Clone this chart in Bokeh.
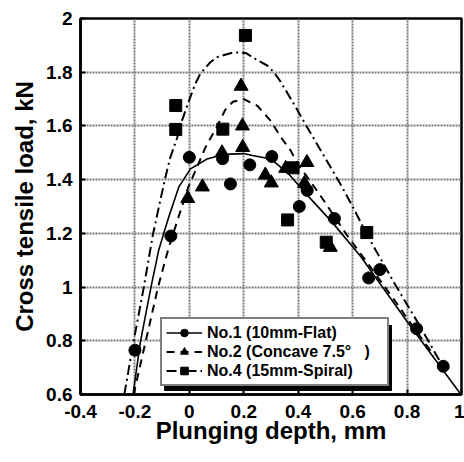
from bokeh.plotting import figure
from bokeh.models import Range1d, FixedTicker, Legend, BoxAnnotation
from bokeh.embed import file_html
from bokeh.resources import INLINE

# ---- data ----
x_ticks = [-0.4, -0.2, 0.0, 0.2, 0.4, 0.6, 0.8, 1.0]
x_tick_labels = ["-0.4", "-0.2", "0", "0.2", "0.4", "0.6", "0.8", "1"]
y_ticks = [0.6, 0.8, 1.0, 1.2, 1.4, 1.6, 1.8, 2.0]
y_tick_labels = ["0.6", "0.8", "1", "1.2", "1.4", "1.6", "1.8", "2"]

series_names = ["No.1 (10mm-Flat)", "No.2 (Concave 7.5°   )", "No.4 (15mm-Spiral)"]

# measured points
no1_x = [-0.20, -0.068, 0.0, 0.122, 0.151, 0.222, 0.303, 0.404, 0.433, 0.533, 0.659, 0.70, 0.835, 0.933]
no1_y = [0.765, 1.19, 1.483, 1.478, 1.384, 1.455, 1.486, 1.30, 1.36, 1.255, 1.034, 1.065, 0.845, 0.705]

no2_x = [-0.006, 0.048, 0.12, 0.196, 0.195, 0.19, 0.279, 0.301, 0.354, 0.432, 0.423, 0.518]
no2_y = [1.33, 1.373, 1.50, 1.52, 1.60, 1.748, 1.417, 1.388, 1.442, 1.464, 1.386, 1.148]

no4_x = [-0.05, -0.05, 0.123, 0.206, 0.381, 0.361, 0.503, 0.652]
no4_y = [1.676, 1.587, 1.588, 1.937, 1.444, 1.25, 1.167, 1.203]

# fitted curves
fit1_x = [-0.207, -0.18, -0.141, -0.113, -0.094, -0.076, -0.039, 0.004, 0.065, 0.126, 0.20,
          0.232, 0.30, 0.366, 0.44, 0.526, 0.629, 0.80, 0.996]
fit1_y = [0.60, 0.795, 1.0, 1.136, 1.20, 1.26, 1.372, 1.44, 1.477, 1.494, 1.497,
          1.49, 1.477, 1.42, 1.335, 1.24, 1.115, 0.872, 0.603]

fit2_x = [-0.205, -0.16, -0.115, -0.075, -0.04, -0.005, 0.028, 0.059, 0.10, 0.132, 0.16, 0.20,
          0.25, 0.298, 0.335, 0.371, 0.403, 0.433, 0.482, 0.531, 0.58, 0.665, 0.751, 0.813, 0.874, 0.90]
fit2_y = [0.60, 0.80, 1.0, 1.15, 1.26, 1.37, 1.446, 1.52, 1.595, 1.66, 1.69, 1.70,
          1.675, 1.62, 1.56, 1.51, 1.45, 1.41, 1.34, 1.266, 1.192, 1.075, 0.955, 0.865, 0.78, 0.745]

fit4_x = [-0.239, -0.205, -0.168, -0.134, -0.107, -0.088, -0.07, -0.045, -0.027, -0.003, 0.022, 0.04,
          0.077, 0.102, 0.163, 0.207, 0.249, 0.286, 0.311, 0.335, 0.384, 0.43, 0.478, 0.555,
          0.60, 0.65, 0.70, 0.75, 0.80, 0.85, 0.90, 0.92]
fit4_y = [0.60, 0.797, 0.996, 1.195, 1.322, 1.409, 1.483, 1.555, 1.62, 1.69, 1.757, 1.794,
          1.837, 1.856, 1.874, 1.872, 1.845, 1.825, 1.80, 1.765, 1.682, 1.60, 1.517, 1.384,
          1.30, 1.20, 1.11, 1.02, 0.935, 0.85, 0.76, 0.725]

FONT = "Liberation Sans"

p = figure(width=464, height=462, output_backend="svg", toolbar_location=None,
           x_range=Range1d(-0.4, 1.0), y_range=Range1d(0.6, 2.0),
           min_border_left=80, min_border_right=3, min_border_top=18, min_border_bottom=68)

p.background_fill_color = "white"
p.border_fill_color = "white"
p.outline_line_color = "black"
p.outline_line_width = 2.5

for ax, ticks, labels in ((p.xaxis[0], x_ticks, x_tick_labels), (p.yaxis[0], y_ticks, y_tick_labels)):
    ax.ticker = FixedTicker(ticks=ticks)
    ax.major_label_overrides = {t: l for t, l in zip(ticks, labels)}
    ax.major_label_text_font = FONT
    ax.major_label_text_font_style = "bold"
    ax.major_label_text_font_size = "19px"
    ax.major_label_text_color = "black"
    ax.axis_label_text_font = FONT
    ax.axis_label_text_font_style = "bold"
    ax.axis_label_text_font_size = "24px"
    ax.axis_label_text_color = "black"
    ax.major_tick_in = 5
    ax.major_tick_out = 0
    ax.minor_tick_line_color = None
    ax.axis_line_color = "black"
    ax.axis_line_width = 2.5
    ax.major_tick_line_width = 2

p.xaxis.axis_label = "Plunging depth, mm"
p.yaxis.axis_label = "Cross tensile load, kN"
p.xaxis.major_label_standoff = 10
p.yaxis.major_label_standoff = 8
p.xaxis.axis_label_standoff = -4
p.yaxis.axis_label_standoff = 5

p.xgrid[0].ticker = FixedTicker(ticks=x_ticks)
p.ygrid[0].ticker = FixedTicker(ticks=y_ticks)
for g in (p.xgrid[0], p.ygrid[0]):
    g.grid_line_color = "#7a7a7a"
    g.grid_line_alpha = 1.0
    g.grid_line_width = 2
    g.grid_line_dash = "2 1"

l1 = p.line(fit1_x, fit1_y, line_color="black", line_width=1.6)
l2 = p.line(fit2_x, fit2_y, line_color="black", line_width=2, line_dash="8 6")
l4 = p.line(fit4_x, fit4_y, line_color="black", line_width=2, line_dash="10 4 2 4")

s1 = p.scatter(no1_x, no1_y, marker="circle", size=12, fill_color="black", line_color="black")
s2 = p.scatter(no2_x, no2_y, marker="triangle", size=14, fill_color="black", line_color="black")
s4 = p.scatter(no4_x, no4_y, marker="square", size=12, fill_color="black", line_color="black")

items = [(series_names[0], [l1, s1]), (series_names[1], [l2, s2]), (series_names[2], [l4, s4])]

# legend box geometry (screen px, relative to the frame's bottom-left)
LEG_LEFT, LEG_BOTTOM, PAD, GLYPH_W, STANDOFF, LABEL_W, ROW_H = 80, 8, 4, 36, 5, 176, 19
leg_w = 2 * PAD + GLYPH_W + STANDOFF + LABEL_W
leg_h = 2 * PAD + 3 * ROW_H
SH = 4

shadow = BoxAnnotation(left=LEG_LEFT + SH, right=LEG_LEFT + SH + leg_w + 2,
                       bottom=LEG_BOTTOM - SH, top=LEG_BOTTOM - SH + leg_h,
                       left_units="screen", right_units="screen",
                       bottom_units="screen", top_units="screen",
                       fill_color="black", fill_alpha=1, line_color="black", line_alpha=1)
p.add_layout(shadow)

lg = Legend(items=items, location=(LEG_LEFT, LEG_BOTTOM))
lg.label_text_font = FONT
lg.label_text_font_style = "bold"
lg.label_text_font_size = "16px"
lg.label_text_color = "black"
lg.glyph_width = GLYPH_W
lg.glyph_height = ROW_H
lg.label_height = ROW_H
lg.label_width = LABEL_W
lg.spacing = 0
lg.padding = PAD
lg.margin = 0
lg.label_standoff = STANDOFF
lg.border_line_color = "black"
lg.border_line_width = 2
lg.background_fill_color = "white"
lg.background_fill_alpha = 1
p.add_layout(lg, "center")

open("out.html", "w").write(file_html(p, INLINE))
